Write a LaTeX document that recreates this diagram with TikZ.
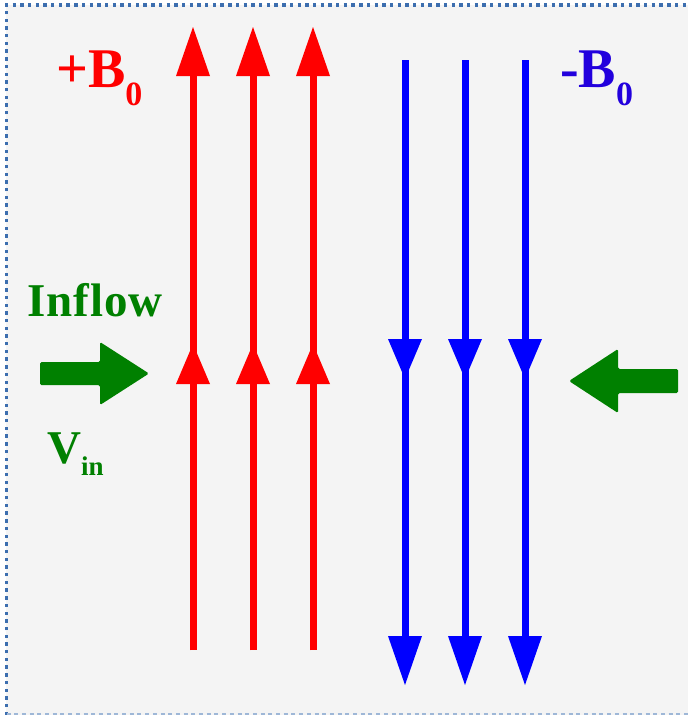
\documentclass[tikz,border=0pt]{standalone}
\usepackage{fontspec}
\setmainfont{Liberation Serif}
\usetikzlibrary{arrows.meta}

\definecolor{fieldred}{RGB}{255,0,0}
\definecolor{fieldblue}{RGB}{0,0,255}
\definecolor{labelblue}{RGB}{34,0,221}
\definecolor{flowgreen}{RGB}{0,128,0}
\definecolor{framecol}{RGB}{60,110,175}
\definecolor{panelgray}{RGB}{244,244,244}

\begin{document}
\begin{tikzpicture}[
    x=1pt, y=-1pt,
    upline/.style={draw=fieldred, line width=7pt},
    downline/.style={draw=fieldblue, line width=7pt},
    endtip/.style={-{Triangle[width=34pt,length=49pt,line width=0pt]}},
    midtip/.style={-{Triangle[width=34pt,length=40pt,line width=0pt]}},
    lbl/.style={anchor=base west, inner sep=0pt, font=\bfseries},
    flowarrow/.style={fill=flowgreen, rounded corners=1.5pt}
]
    \useasboundingbox (0,0) rectangle (688,715);
    % panel and frame
    \fill[panelgray] (6,5) rectangle (688,715);
    \draw[framecol, line width=3.2pt, dash pattern=on 3.4pt off 4.3pt] (6.5,715) -- (6.5,5) -- (688,5);
    \draw[framecol!50, line width=1.5pt, dash pattern=on 4pt off 3.7pt] (6.5,714) -- (688,714);

    % +B0 field lines
    \foreach \i/\x in {1/193,2/253,3/313} {
        \coordinate (r\i s) at (\x,650);
        \coordinate (r\i m) at (\x,344);
        \coordinate (r\i e) at (\x,27);
        \draw[upline, endtip] (r\i s) -- (r\i e);
        \draw[upline, midtip] (r\i s) -- (r\i m);
    }

    % -B0 field lines
    \foreach \i/\x in {1/405,2/465,3/525} {
        \coordinate (b\i s) at (\x,60);
        \coordinate (b\i m) at (\x,379);
        \coordinate (b\i e) at (\x,685);
        \draw[downline, endtip] (b\i s) -- (b\i e);
        \draw[downline, midtip] (b\i s) -- (b\i m);
    }

    % inflow arrows
    \fill[flowarrow] (40,362) -- (100,362) -- (100,342) -- (149,373.5) -- (100,405) -- (100,385) -- (40,385) -- cycle;
    \fill[flowarrow] (678,369) -- (618,369) -- (618,349) -- (569,381) -- (618,413) -- (618,393) -- (678,393) -- cycle;

    % labels
    \node[lbl, text=fieldred] (bplus) at (56,87) {\fontsize{56}{60}\selectfont +B\raisebox{-18pt}{\fontsize{34}{34}\selectfont 0}};
    \node[lbl, text=labelblue] (bminus) at (560,87) {\fontsize{56}{60}\selectfont -B\raisebox{-18pt}{\fontsize{34}{34}\selectfont 0}};
    \node[lbl, text=flowgreen] (inflow) at (27,316) {\fontsize{47}{50}\selectfont\addfontfeature{LetterSpace=2}Inflow};
    \node[lbl, text=flowgreen] (vin) at (47,463) {\fontsize{47}{50}\selectfont V\raisebox{-12pt}{\fontsize{27}{27}\selectfont in}};
\end{tikzpicture}
\end{document}
